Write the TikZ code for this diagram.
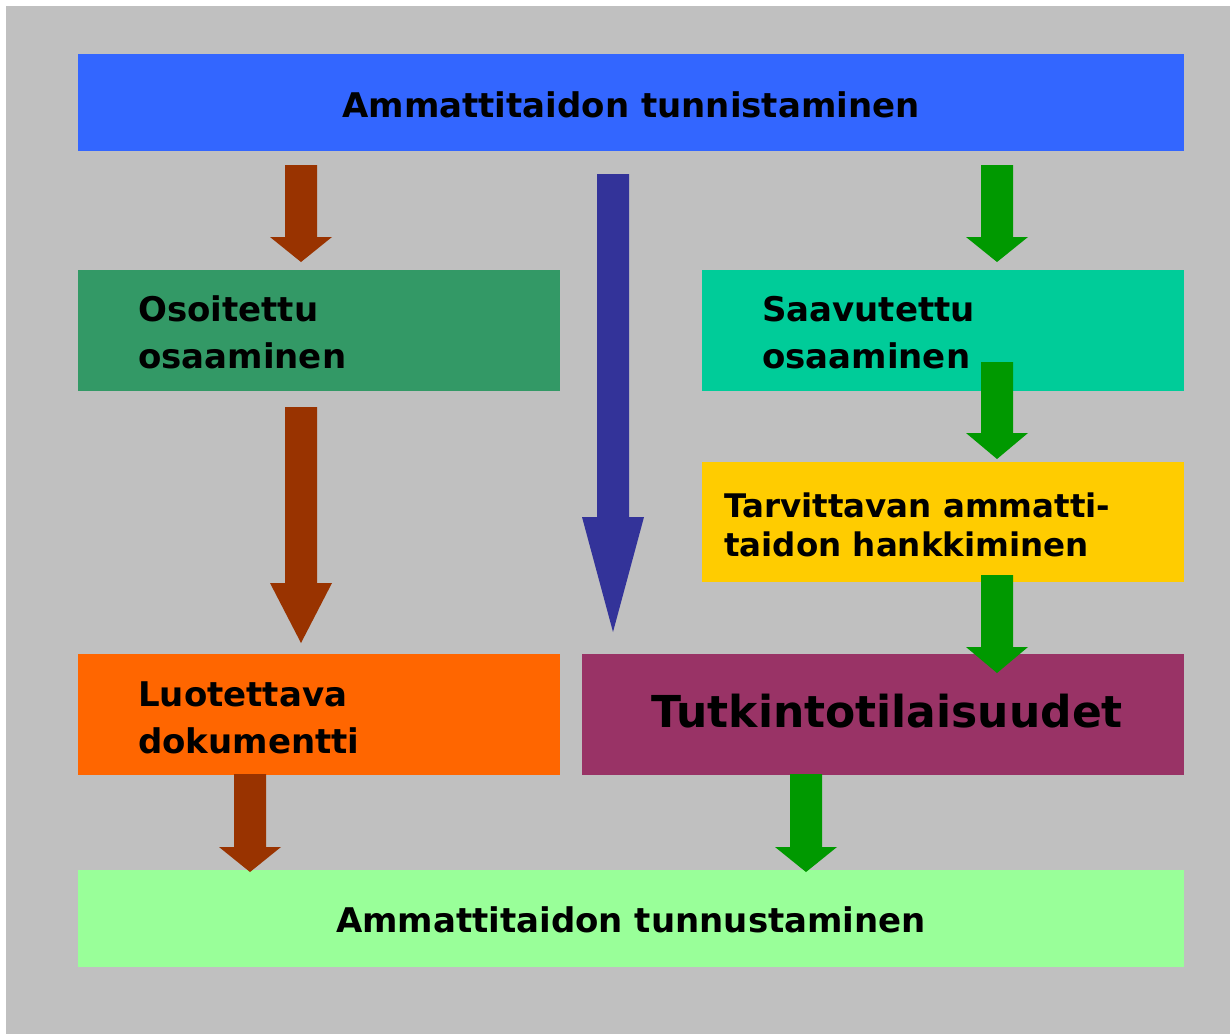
\documentclass[tikz,border=0pt]{standalone}
\usepackage{fontspec}
\setmainfont{DejaVu Sans}
\definecolor{bggray}{HTML}{C0C0C0}
\definecolor{cblue}{HTML}{3366FF}
\definecolor{cgreen}{HTML}{339966}
\definecolor{cteal}{HTML}{00CC99}
\definecolor{cyellow}{HTML}{FFCC00}
\definecolor{corange}{HTML}{FF6600}
\definecolor{cpurple}{HTML}{993366}
\definecolor{clight}{HTML}{99FF99}
\definecolor{abrown}{HTML}{993300}
\definecolor{anavy}{HTML}{333399}
\definecolor{agreen}{HTML}{009900}
% #1 colour, #2 centre x, #3 top y, #4 head base y, #5 tip y
\newcommand\blockarrowdown[5]{%
  \fill[#1] ({#2-16},#3) -- ({#2+16},#3) -- ({#2+16},#4) -- ({#2+31},#4)
    -- (#2,#5) -- ({#2-31},#4) -- ({#2-16},#4) -- cycle;}
\begin{document}
\begin{tikzpicture}[x=1pt,y=-1pt,
  box/.style={draw=none,inner sep=0pt,outer sep=0pt,anchor=north west},
  lbl/.style={inner sep=0pt,anchor=base west,font=\bfseries\fontsize{34}{47}\selectfont,align=left},
  clbl/.style={inner sep=0pt,anchor=base,font=\bfseries\fontsize{34}{47}\selectfont}]
\useasboundingbox (0,0) rectangle (1230,1034);
\fill[bggray] (6,6) rectangle (1230,1034);
% boxes
\node[box,fill=cblue,minimum width=1106pt,minimum height=97pt] (top) at (78,54) {};
\node[box,fill=cgreen,minimum width=482pt,minimum height=121pt] (osoit) at (78,270) {};
\node[box,fill=cteal,minimum width=482pt,minimum height=121pt] (saav) at (702,270) {};
\node[box,fill=cyellow,minimum width=482pt,minimum height=120pt] (tarv) at (702,462) {};
\node[box,fill=corange,minimum width=482pt,minimum height=121pt] (luot) at (78,654) {};
\node[box,fill=cpurple,minimum width=602pt,minimum height=121pt] (tutk) at (582,654) {};
\node[box,fill=clight,minimum width=1106pt,minimum height=97pt] (bottom) at (78,870) {};
% texts (base anchor = baseline of the last line)
\node[clbl] (ttop) at (631,117) {Ammattitaidon tunnistaminen};
\node[lbl] (tosoit) at (138,368) {Osoitettu\\osaaminen};
\node[lbl] (tsaav) at (762,368) {Saavutettu\\osaaminen};
\node[lbl,font=\bfseries\fontsize{32.5}{39}\selectfont] (ttarv) at (724,556) {Tarvittavan ammatti-\\taidon hankkiminen};
\node[lbl] (tluot) at (138,753) {Luotettava\\dokumentti};
\node[inner sep=0pt,anchor=base,font=\bfseries\fontsize{44}{50}\selectfont] (ttutk) at (887,727) {Tutkintotilaisuudet};
\node[clbl] (tbottom) at (631,932) {Ammattitaidon tunnustaminen};
% arrows
\blockarrowdown{abrown}{301}{165}{237}{262}
\blockarrowdown{abrown}{301}{407}{583}{643}
\blockarrowdown{agreen}{997}{165}{237}{262}
\blockarrowdown{agreen}{997}{362}{433}{459}
\blockarrowdown{agreen}{997}{575}{647}{673}
\blockarrowdown{abrown}{250}{774}{847}{872}
\blockarrowdown{agreen}{806}{774}{847}{872}
\fill[anavy] (597,174) -- (629,174) -- (629,517) -- (644,517) -- (613,632) -- (582,517) -- (597,517) -- cycle;
\end{tikzpicture}
\end{document}
